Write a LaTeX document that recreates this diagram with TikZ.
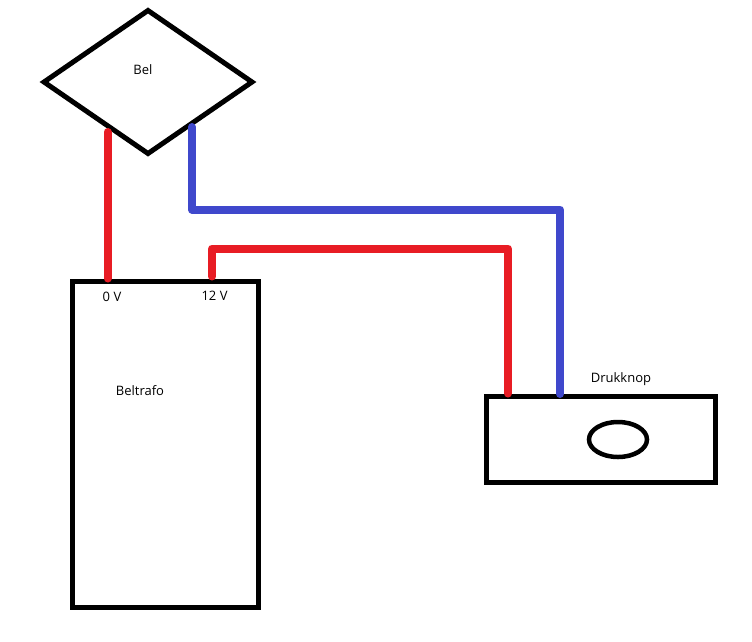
\documentclass[tikz,border=0pt]{standalone}
\usepackage{fontspec}
\setmainfont{Open Sans}
\usetikzlibrary{shapes.geometric,positioning}
\definecolor{wirered}{RGB}{232,28,36}
\definecolor{wireblue}{RGB}{63,72,204}
\begin{document}
\begin{tikzpicture}[x=1pt,y=-1pt]
\tikzset{
  part/.style={draw=black,line width=5pt,inner sep=0pt,outer sep=0pt,line join=miter},
  lbl/.style={font=\fontsize{13}{15}\selectfont,inner sep=0pt},
  redwire/.style={draw=wirered,line width=8pt,line cap=round,line join=round},
  bluewire/.style={draw=wireblue,line width=8pt,line cap=round,line join=round}
}
\useasboundingbox (0,0) rectangle (752,641);
\path[fill=white] (0,0) rectangle (752,641);
% parts
\node[part,diamond,aspect=1.44,minimum width=208pt,minimum height=143pt] (bel) at (148,82) {};
\node[part,minimum width=186pt,minimum height=326pt] (trafo) at (165.5,444.5) {};
\node[part,minimum width=229pt,minimum height=86pt] (knop) at (601,439.5) {};
\node[part,ellipse,line width=4.5pt,minimum width=58pt,minimum height=35pt] (btn) at (618,439.5) {};
\coordinate (belred) at (107.5,132);
\coordinate (belblue) at (192,127);
\coordinate (tr0) at (107.5,278.5);
\coordinate (tr12) at (212,276.5);
\coordinate (knred) at (508,393.5);
\coordinate (knblue) at (560,394);
% wires
\draw[redwire] (belred) -- (tr0);
\draw[redwire] (tr12) |- (knred |- 0,248.5) -- (knred);
\draw[bluewire] (belblue) |- (knblue |- 0,209.5) -- (knblue);
% labels
\node[lbl] (bellbl) at (143,69.5) {Bel};
\node[lbl] (lbl0) at (112,296.5) {0 V};
\node[lbl] (lbl12) at (214.5,296) {12 V};
\node[lbl] (beltrafo) at (140,391) {Beltrafo};
\node[lbl] (drukknop) at (621,379) {Drukknop};
\end{tikzpicture}
\end{document}
